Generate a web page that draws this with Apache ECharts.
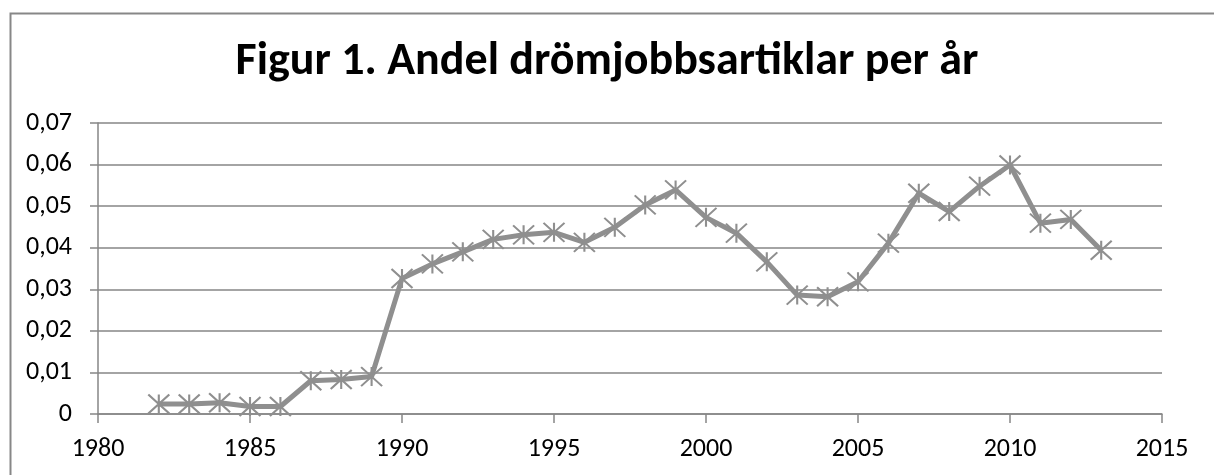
<!DOCTYPE html>
<html>
<head>
<meta charset="utf-8">
<script src="https://cdn.jsdelivr.net/npm/echarts@6/dist/echarts.min.js"></script>
<style>
  html, body { margin: 0; padding: 0; background: #fff; }
  #chart { width: 1214px; height: 475px; }
</style>
</head>
<body>
<div id="chart"></div>
<script>
var titleText = 'Figur 1. Andel drömjobbsartiklar per år';
var years = [1982, 1983, 1984, 1985, 1986, 1987, 1988, 1989, 1990, 1991, 1992,
             1993, 1994, 1995, 1996, 1997, 1998, 1999, 2000, 2001, 2002, 2003,
             2004, 2005, 2006, 2007, 2008, 2009, 2010, 2011, 2012, 2013];
var andel = [0.0024, 0.0024, 0.0027, 0.0018, 0.0018, 0.0080, 0.0083, 0.0090, 0.0326, 0.0361, 0.0390,
             0.0420, 0.0431, 0.0437, 0.0413, 0.0449, 0.0503, 0.0539, 0.0473, 0.0435, 0.0366, 0.0286,
             0.0282, 0.0318, 0.0411, 0.0531, 0.0487, 0.0548, 0.0599, 0.0459, 0.0468, 0.0394];

var chart = echarts.init(document.getElementById('chart'));
var gray = '#8f8f8f';
var fontFam = 'Carlito, "Open Sans", "Liberation Sans", sans-serif';

var points = years.map(function (y, i) { return [y, andel[i]]; });

var option = {
    backgroundColor: '#fff',
    animation: false,
    title: {
        text: titleText,
        left: 'center',
        top: 34,
        textStyle: {
            fontFamily: fontFam,
            fontSize: 46,
            fontWeight: 'bold',
            color: '#000'
        }
    },
    graphic: [{
        type: 'rect',
        left: 8,
        top: 11,
        shape: { width: 1300, height: 600 },
        style: { fill: 'none', stroke: '#878787', lineWidth: 2 },
        silent: true
    }],
    grid: { left: 98, right: 52, top: 123, bottom: 61 },
    xAxis: {
        type: 'value',
        min: 1980,
        max: 2015,
        interval: 5,
        axisLine: { show: true, lineStyle: { color: '#868686', width: 1.5 } },
        axisTick: { show: true, length: 9, lineStyle: { color: '#868686', width: 1.5 } },
        splitLine: { show: false },
        axisLabel: {
            margin: 22,
            color: '#000',
            fontFamily: fontFam,
            fontSize: 26,
            formatter: function (v) { return String(v); }
        }
    },
    yAxis: {
        type: 'value',
        min: 0,
        max: 0.07,
        interval: 0.01,
        axisLine: { show: true, lineStyle: { color: '#868686', width: 1.5 } },
        axisTick: { show: true, length: 8, lineStyle: { color: '#868686', width: 1.5 } },
        splitLine: { show: true, lineStyle: { color: '#868686', width: 1.5 } },
        axisLabel: {
            margin: 26,
            color: '#000',
            fontFamily: fontFam,
            fontSize: 26,
            formatter: function (v) {
                return v === 0 ? '0' : v.toFixed(2).replace('.', ',');
            }
        }
    },
    series: [{
        type: 'line',
        data: points,
        lineStyle: { color: gray, width: 5 },
        symbol: 'path://M0 0 L20 18 M20 0 L0 18 M10 0 L10 18',
        symbolSize: [21, 19],
        itemStyle: { color: 'none', borderColor: gray, borderWidth: 2 },
        z: 3
    }]
};

chart.setOption(option);
</script>
</body>
</html>
